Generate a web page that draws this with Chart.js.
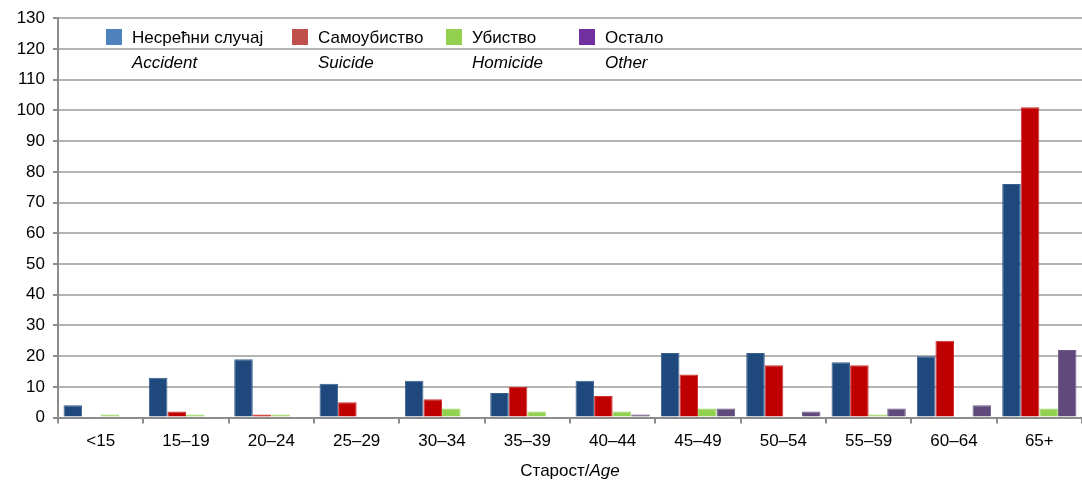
<!DOCTYPE html>
<html>
<head>
<meta charset="utf-8">
<script src="https://cdn.jsdelivr.net/npm/chart.js@4.4.1/dist/chart.umd.min.js"></script>
<style>
  html, body { margin: 0; padding: 0; background: #fff; }
  #wrap { width: 1082px; height: 488px; }
</style>
</head>
<body>
<div id="wrap"><canvas id="chart"></canvas></div>
<script>
// age groups and counts
const ageGroups = ['<15', '15–19', '20–24', '25–29', '30–34', '35–39', '40–44', '45–49', '50–54', '55–59', '60–64', '65+'];
const accident = [4, 13, 19, 11, 12, 8, 12, 21, 21, 18, 20, 76];
const suicide  = [0, 2, 1, 5, 6, 10, 7, 14, 17, 17, 25, 101];
const homicide = [1, 1, 1, 0, 3, 2, 2, 3, 0, 1, 0, 3];
const other    = [0, 0, 0, 0, 0, 0, 1, 3, 2, 3, 4, 22];
const yTicks = [0, 10, 20, 30, 40, 50, 60, 70, 80, 90, 100, 110, 120, 130];

const legendItems = [
  { sr: 'Несрећни случај', en: 'Accident', color: '#4F81BD', x: 106 },
  { sr: 'Самоубиство', en: 'Suicide', color: '#C0504D', x: 292 },
  { sr: 'Убиство', en: 'Homicide', color: '#92D050', x: 446 },
  { sr: 'Остало', en: 'Other', color: '#7030A0', x: 579 }
];

const FONT = '"Liberation Sans", Arial, sans-serif';

// two-line legend (Serbian / English italic) and mixed-style axis title
const extras = {
  id: 'extras',
  afterDraw(chart) {
    const c = chart.ctx;
    c.save();
    c.textBaseline = 'middle';
    c.textAlign = 'left';
    legendItems.forEach(it => {
      c.fillStyle = it.color;
      c.fillRect(it.x, 29, 16, 16);
      c.fillStyle = '#000';
      c.font = '17px ' + FONT;
      c.fillText(it.sr, it.x + 26, 38);
      c.font = 'italic 17px ' + FONT;
      c.fillText(it.en, it.x + 26, 63);
    });

    const a = chart.chartArea;
    const cx = (a.left + a.right) / 2;
    c.fillStyle = '#000';
    c.font = '17px ' + FONT;
    const w1 = c.measureText('Старост/').width;
    c.font = 'italic 17px ' + FONT;
    const w2 = c.measureText('Age').width;
    const x0 = cx - (w1 + w2) / 2;
    c.font = '17px ' + FONT;
    c.fillText('Старост/', x0, 471);
    c.font = 'italic 17px ' + FONT;
    c.fillText('Age', x0 + w1, 471);
    c.restore();
  }
};

new Chart(document.getElementById('chart'), {
  type: 'bar',
  data: {
    labels: ageGroups,
    datasets: [
      { label: 'Несрећни случај', data: accident, backgroundColor: '#1F497D', borderColor: '#3A6090', borderWidth: 1 },
      { label: 'Самоубиство', data: suicide, backgroundColor: '#C00000', borderColor: '#CC3030', borderWidth: 1 },
      { label: 'Убиство', data: homicide, backgroundColor: '#92D050', borderColor: '#9CD860', borderWidth: 1 },
      { label: 'Остало', data: other, backgroundColor: '#604A7B', borderColor: '#70598A', borderWidth: 1 }
    ]
  },
  options: {
    responsive: true,
    maintainAspectRatio: false,
    animation: false,
    datasets: { bar: { categoryPercentage: 0.87, barPercentage: 1.0 } },
    layout: { padding: { top: 8, right: 0, bottom: 28, left: 0 } },
    plugins: { legend: { display: false }, tooltip: { enabled: false } },
    scales: {
      x: {
        grid: { display: true, drawOnChartArea: false, drawTicks: true, tickLength: 6, color: '#8c8c8c', lineWidth: 2 },
        border: { color: '#8c8c8c', width: 2 },
        ticks: { color: '#000', font: { family: FONT, size: 17 }, padding: 8, maxRotation: 0 }
      },
      y: {
        min: 0,
        max: 130,
        afterFit(s) { s.width = 58; },
        afterBuildTicks(s) { s.ticks = yTicks.map(v => ({ value: v })); },
        grid: { color: '#b4b4b4', lineWidth: 2, tickLength: 5, tickColor: '#8c8c8c' },
        border: { color: '#8c8c8c', width: 2 },
        ticks: { color: '#000', font: { family: FONT, size: 17 }, padding: 8 }
      }
    }
  },
  plugins: [extras]
});
</script>
</body>
</html>
